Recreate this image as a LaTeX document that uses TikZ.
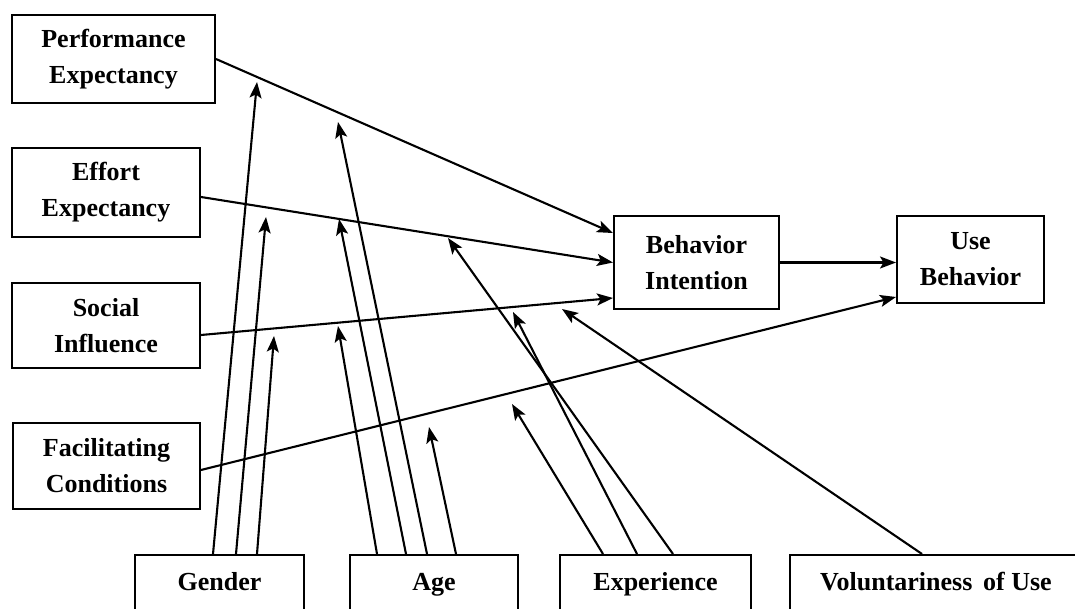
\documentclass[tikz,border=0pt]{standalone}
\usepackage{fontspec}
\setmainfont{Liberation Serif}
\usetikzlibrary{arrows.meta}

\begin{document}
\begin{tikzpicture}[x=1pt, y=-1pt,
  box/.style={draw, line width=2pt, rectangle, align=center, inner sep=0pt,
              font=\fontsize{26}{36}\selectfont\bfseries},
  modbox/.style={box, minimum height=59pt, text height=18pt, text depth=6pt},
  link/.style={line width=2.1pt, -{Stealth[length=16pt,width=12pt,inset=3.5pt]}},
]
\useasboundingbox (0,0) rectangle (1075,609);
\clip (0,0) rectangle (1075,609);
\fill[white] (0,0) rectangle (1075,609);

% determinants
\node[box, minimum width=203pt, minimum height=88pt] (PE) at (113.5,59)  {Performance\\Expectancy};
\node[box, minimum width=188pt, minimum height=89pt] (EE) at (106,192.5) {Effort\\Expectancy};
\node[box, minimum width=188pt, minimum height=85pt] (SI) at (106,325.5) {Social\\Influence};
\node[box, minimum width=187pt, minimum height=86pt] (FC) at (106.5,466) {Facilitating\\Conditions};

% outcomes
\node[box, minimum width=165pt, minimum height=93pt] (BI) at (696.5,262.5) {Behavior\\Intention};
\node[box, minimum width=147pt, minimum height=87pt] (UB) at (970.5,259.5) {Use\\Behavior};

% moderators
\node[modbox, minimum width=169pt] (G) at (219.5,584.5) {Gender};
\node[modbox, minimum width=168pt] (A) at (434,584.5)   {Age};
\node[modbox, minimum width=191pt] (X) at (655.5,584.5) {Experience};
\node[modbox, minimum width=292pt] (V) at (936,584.5)   {Voluntariness\, of Use};

% ends of the moderating arrows
\coordinate (gPE) at (257,82);
\coordinate (gEE) at (266,217);
\coordinate (gSI) at (274,336);
\coordinate (aPE) at (338,122);
\coordinate (aEE) at (339,219);
\coordinate (aSI) at (338,326);
\coordinate (aFC) at (429,427);
\coordinate (eEE) at (448,238);
\coordinate (eSI) at (513,312);
\coordinate (eFC) at (512,404);
\coordinate (vBI) at (562,309);

% main paths
\draw[link] (PE.east) -- ([yshift=29.5pt]BI.west);
\draw[link] ([yshift=-4.5pt]EE.east) -- (BI.west);
\draw[link] ([yshift=-9.5pt]SI.east) -- ([yshift=-35.5pt]BI.west);
\draw[link] ([yshift=-4pt]FC.east) -- ([yshift=-37.5pt]UB.west);
\draw[link] (BI.east) -- (BI.east -| UB.west);

% gender
\draw[link] ([xshift=-6.5pt]G.north) -- (gPE);
\draw[link] ([xshift=16.5pt]G.north) -- (gEE);
\draw[link] ([xshift=37.5pt]G.north) -- (gSI);

% age
\draw[link] ([xshift=-7pt]A.north)  -- (aPE);
\draw[link] ([xshift=-28pt]A.north) -- (aEE);
\draw[link] ([xshift=-57pt]A.north) -- (aSI);
\draw[link] ([xshift=22pt]A.north)  -- (aFC);

% experience
\draw[link] ([xshift=17.5pt]X.north)  -- (eEE);
\draw[link] ([xshift=-18.5pt]X.north) -- (eSI);
\draw[link] ([xshift=-52.5pt]X.north) -- (eFC);

% voluntariness
\draw[link] ([xshift=-14pt]V.north) -- (vBI);
\end{tikzpicture}
\end{document}
